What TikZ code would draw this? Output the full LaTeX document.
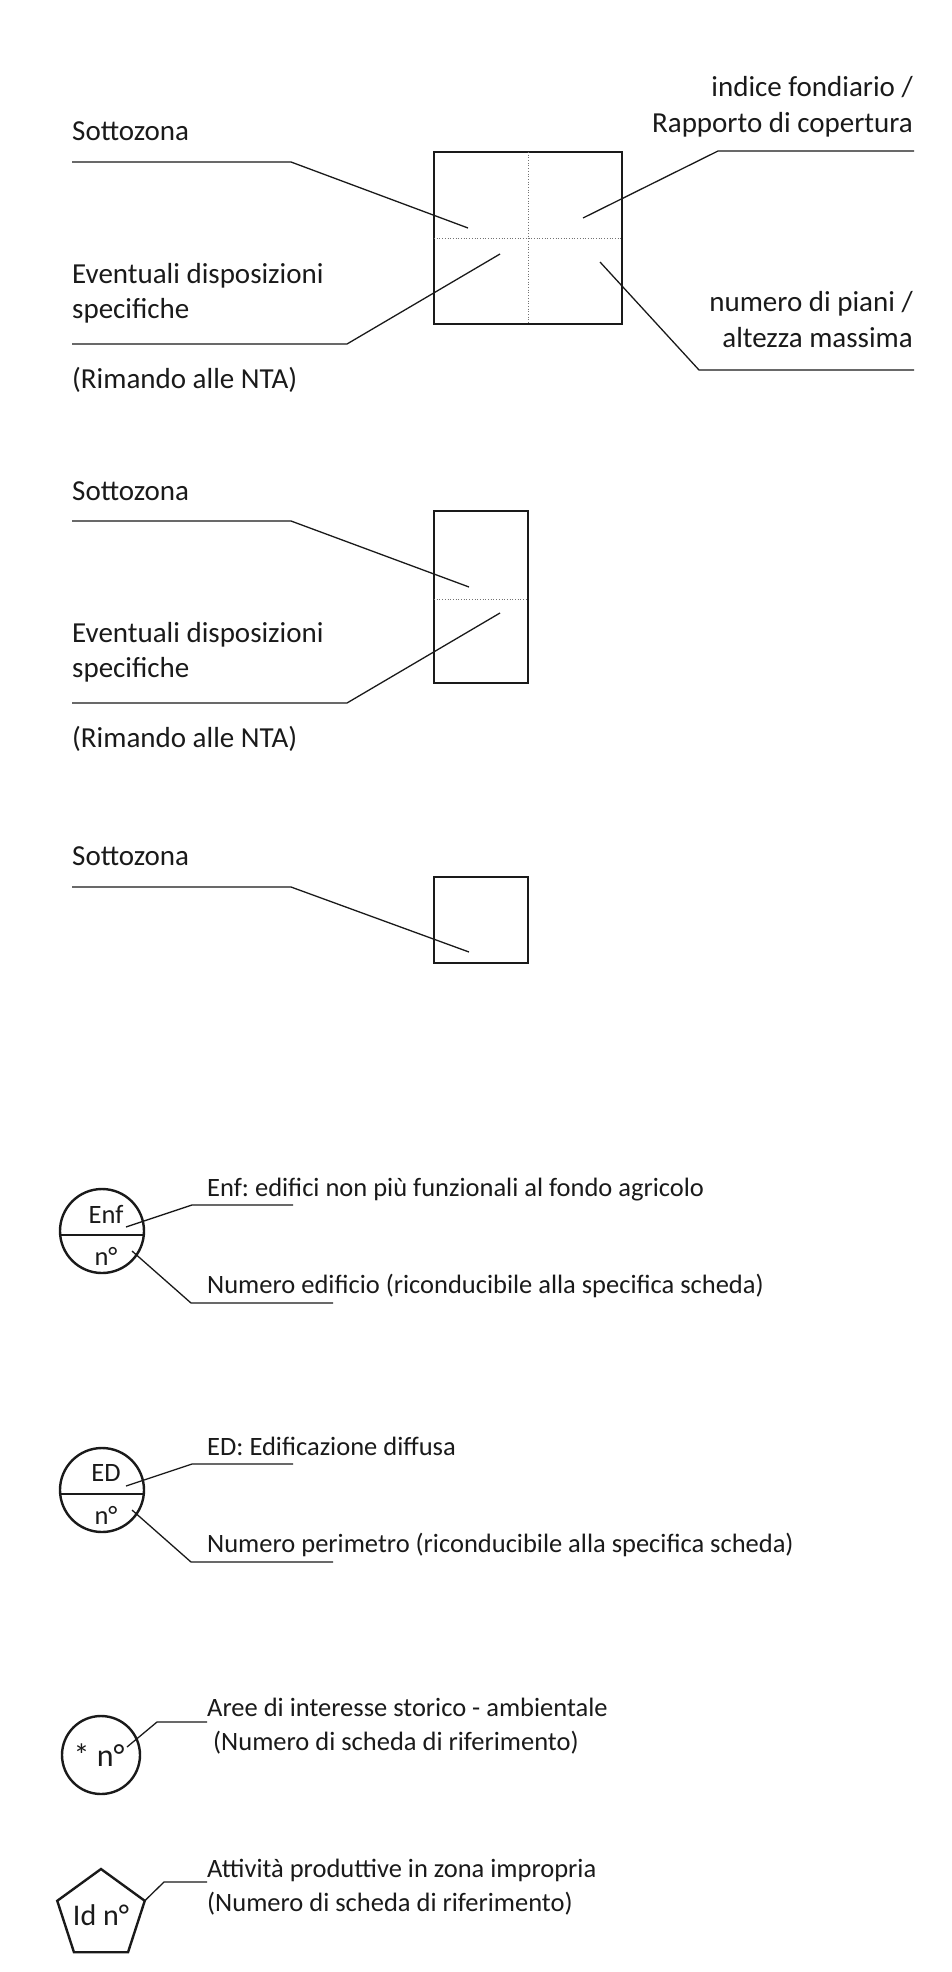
\documentclass[tikz,border=0pt]{standalone}
\usepackage{fontspec}
\setmainfont{Carlito}
\usetikzlibrary{shapes.geometric}
\definecolor{ink}{HTML}{1A1A1A}
\frenchspacing
\begin{document}
\begin{tikzpicture}[x=1pt,y=-1pt,
  lead/.style={line width=1.3pt, draw=ink},
  frame/.style={draw=ink, line width=2.4pt, inner sep=0pt, outer sep=0pt},
  dots/.style={line width=0.7pt, dotted, draw=black!55},
  big/.style={font=\fontsize{29}{35}\selectfont, inner sep=0pt, text=ink},
  small/.style={font=\fontsize{26.5}{32}\selectfont, inner sep=0pt, text=ink},
  sym/.style={draw=ink, line width=2.4pt, inner sep=0pt, outer sep=0pt, minimum size=84pt}]
\useasboundingbox (0,0) rectangle (952,1972);
\fill[white] (0,0) rectangle (952,1972);

% ---------- section 1 ----------
\node[frame, minimum width=188pt, minimum height=172pt] (box1) at (528,238) {};
\draw[dots] (box1.north) -- (box1.south);
\draw[dots] (box1.west) -- (box1.east);
\node[big, anchor=base west] (s1) at (72,141) {Sottozona};
\node[big, anchor=base west] (e1) at (72,283) {Eventuali disposizioni};
\node[big, anchor=base west] (e1b) at (72,318) {specifiche};
\node[big, anchor=base west] (r1) at (72,388) {(Rimando alle NTA)};
\node[big, anchor=base east] (i1) at (913,97) {indice fondiario /};
\node[big, anchor=base east] (i1b) at (913,133) {Rapporto di copertura};
\node[big, anchor=base east] (n1) at (913,311) {numero di piani /};
\node[big, anchor=base east] (n1b) at (913,347) {altezza massima};
\coordinate (a1) at (72,162); \coordinate (a2) at (291,162); \coordinate (a3) at (468,228);
\coordinate (b1) at (72,344); \coordinate (b2) at (347,344); \coordinate (b3) at (500,254);
\coordinate (c1) at (914,151); \coordinate (c2) at (718,151); \coordinate (c3) at (583,218);
\coordinate (d1) at (914,370); \coordinate (d2) at (699,370); \coordinate (d3) at (600,262);
\draw[lead] (a1) -- (a2) -- (a3);
\draw[lead] (b1) -- (b2) -- (b3);
\draw[lead] (c1) -- (c2) -- (c3);
\draw[lead] (d1) -- (d2) -- (d3);

% ---------- section 2 ----------
\node[frame, minimum width=94pt, minimum height=172pt] (box2) at (481,597) {};
\draw[dots] ([yshift=-2pt]box2.west) -- ([yshift=-2pt]box2.east);
\node[big, anchor=base west] (s2) at (72,500) {Sottozona};
\node[big, anchor=base west] (e2) at (72,642) {Eventuali disposizioni};
\node[big, anchor=base west] (e2b) at (72,677) {specifiche};
\node[big, anchor=base west] (r2) at (72,747) {(Rimando alle NTA)};
\coordinate (f1) at (72,521); \coordinate (f2) at (291,521); \coordinate (f3) at (469,587);
\coordinate (g1) at (72,703); \coordinate (g2) at (347,703); \coordinate (g3) at (500,613);
\draw[lead] (f1) -- (f2) -- (f3);
\draw[lead] (g1) -- (g2) -- (g3);

% ---------- section 3 ----------
\node[frame, minimum width=94pt, minimum height=86pt] (box3) at (481,920) {};
\node[big, anchor=base west] (s3) at (72,865) {Sottozona};
\coordinate (h1) at (72,887); \coordinate (h2) at (291,887); \coordinate (h3) at (469,952);
\draw[lead] (h1) -- (h2) -- (h3);

% ---------- section 4 ----------
\node[sym, circle] (c4) at (102,1231) {};
\draw[draw=ink, line width=2.4pt] ([yshift=-4pt]c4.west) -- ([yshift=-4pt]c4.east);
\node[small] (enf) at (106,1214) {Enf};
\node[small] (no4) at (106,1256) {n°};
\node[small, anchor=base west] (t4a) at (207,1196) {Enf: edifici non più funzionali al fondo agricolo};
\node[small, anchor=base west] (t4b) at (207,1293) {Numero edificio (riconducibile alla specifica scheda)};
\coordinate (k1) at (126,1227); \coordinate (k2) at (192,1205); \coordinate (k3) at (293,1205);
\coordinate (l1) at (132,1251); \coordinate (l2) at (191,1303); \coordinate (l3) at (333,1303);
\draw[lead] (k1) -- (k2) -- (k3);
\draw[lead] (l1) -- (l2) -- (l3);

% ---------- section 5 ----------
\node[sym, circle] (c5) at (102,1490) {};
\draw[draw=ink, line width=2.4pt] ([yshift=-4pt]c5.west) -- ([yshift=-4pt]c5.east);
\node[small] (ed) at (106,1473) {ED};
\node[small] (no5) at (106,1515) {n°};
\node[small, anchor=base west] (t5a) at (207,1455) {ED: Edificazione diffusa};
\node[small, anchor=base west] (t5b) at (207,1552) {Numero perimetro (riconducibile alla specifica scheda)};
\coordinate (m1) at (126,1486); \coordinate (m2) at (192,1464); \coordinate (m3) at (293,1464);
\coordinate (o1) at (132,1510); \coordinate (o2) at (191,1562); \coordinate (o3) at (333,1562);
\draw[lead] (m1) -- (m2) -- (m3);
\draw[lead] (o1) -- (o2) -- (o3);

% ---------- section 6 ----------
\node[sym, circle, minimum size=78pt] (c6) at (101,1755) {};
\node[font=\fontsize{32}{36}\selectfont, text=ink, inner sep=0pt] (st) at (99,1755) {* n°};
\node[small, anchor=base west] (t6a) at (207,1716) {Aree di interesse storico - ambientale};
\node[small, anchor=base west] (t6b) at (207,1750) {\ (Numero di scheda di riferimento)};
\coordinate (p1) at (127,1747); \coordinate (p2) at (157,1722); \coordinate (p3) at (207,1722);
\draw[lead] (p1) -- (p2) -- (p3);

% ---------- section 7 ----------
\node[sym, regular polygon, regular polygon sides=5, minimum size=92pt] (pent) at (101,1915) {};
\node[font=\fontsize{30}{34}\selectfont, text=ink, inner sep=0pt] (id) at (101,1915) {Id n°};
\node[small, anchor=base west] (t7a) at (207,1877) {Attività produttive in zona impropria};
\node[small, anchor=base west] (t7b) at (207,1911) {(Numero di scheda di riferimento)};
\coordinate (q2) at (164,1882); \coordinate (q3) at (207,1882);
\draw[lead] (pent.corner 5) -- (q2) -- (q3);
\end{tikzpicture}
\end{document}
